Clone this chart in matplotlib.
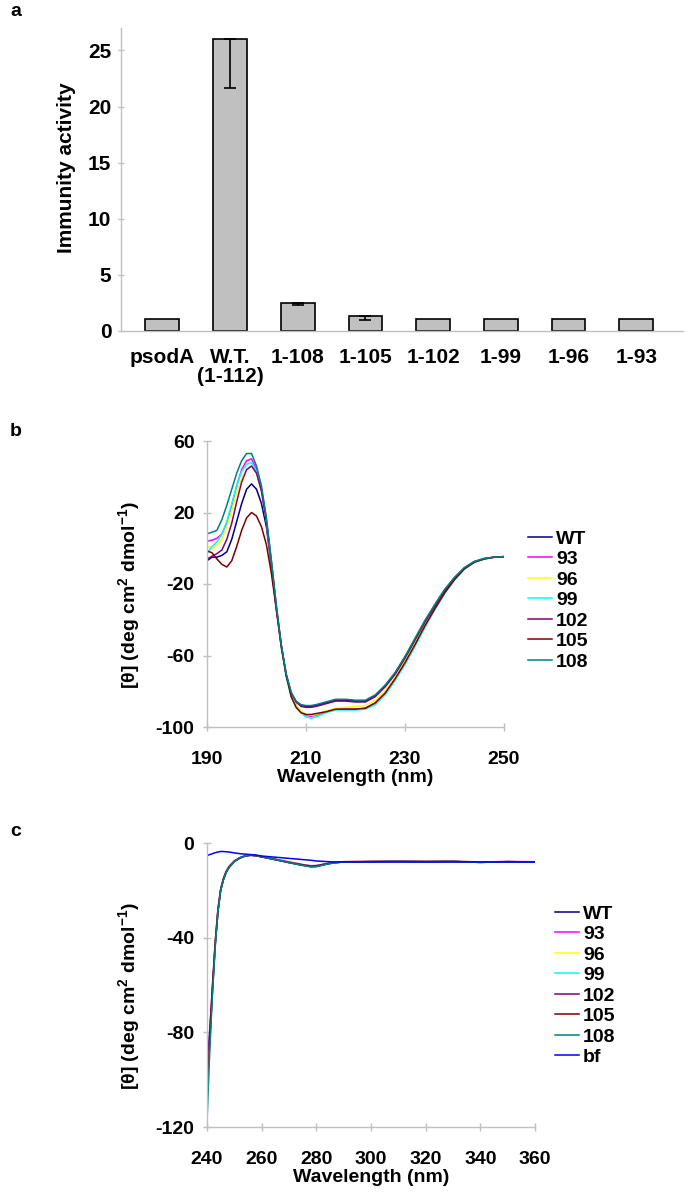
# -*- coding: utf-8 -*-
""" Immunity activity bars (a) and CD spectra (b, c) in one tall figure. """

import matplotlib
matplotlib.use('Agg')
import matplotlib.pyplot as plt
from matplotlib.font_manager import FontProperties

plt.rcParams['font.family'] = ['Liberation Sans', 'DejaVu Sans']
plt.rcParams['mathtext.fontset'] = 'custom'
plt.rcParams['mathtext.rm'] = 'Liberation Sans:bold'
plt.rcParams['mathtext.default'] = 'rm'
plt.rcParams['axes.unicode_minus'] = False

# ---------------- data ----------------
# panel a
constructs = ['psodA', 'W.T.\n(1-112)', '1-108', '1-105', '1-102', '1-99',
              '1-96', '1-93']
activity = [1.05, 26.0, 2.5, 1.3, 1.05, 1.05, 1.05, 1.05]
activity_err_low = [0, 4.35, 0.15, 0.3, 0, 0, 0, 0]

# panel b, far-UV CD (wavelength in nm)
wl_far = list(range(190, 213)) + list(range(214, 251, 2))
far_wt = [-7, -5, -5, -4, -2, 5, 15, 25, 33,
          36, 33, 25, 12, -10, -34, -55, -71, -81, -86, -88, -88.5, -88.5, -88,
          -86.5, -85, -85, -85.5, -85.5, -82.5, -77, -70, -61, -51, -41, -32,
          -23.5, -16.5, -11, -7.5, -5.8, -5, -4.7]
far_93 = [4, 4.5, 5.5, 8, 14, 24, 35, 44, 49,
          50, 44, 33, 16, -7, -32, -54, -71, -82, -88, -91.5, -93.5, -94, -93.5,
          -91.5, -90, -90, -90, -89.5, -86.5, -81, -73, -64, -54, -43.5, -34,
          -25, -17.5, -11.5, -7.8, -6, -5, -4.7]
far_96 = [1, 0, 1.5, 5, 12, 21, 31, 39, 44,
          46, 42, 32, 15, -8, -33, -55, -71, -82, -88, -91, -93, -93.5, -93,
          -91, -89.5, -89, -88.5, -88, -85, -79.5, -72, -63, -53, -42.5, -33,
          -24, -17, -11.3, -7.7, -5.9, -5, -4.7]
far_99 = [-3, 1, 3.5, 8, 15, 25, 35, 43, 47,
          48, 43, 33, 16, -7, -32, -55, -72, -83, -89, -92, -94.5, -95, -94.5,
          -92, -90.5, -90.5, -90.5, -90, -87.5, -82, -74, -65, -55, -44.5, -34.5,
          -25.5, -17.8, -11.7, -7.9, -6, -5, -4.7]
far_102 = [-6, -4.5, -3, -1, 5, 14, 26, 37, 44,
           46, 42, 32, 15, -8, -33, -55, -71, -81, -86, -88.5, -89, -89, -88.5,
           -87, -85.5, -85.5, -86, -86, -83, -77.5, -70.5, -61.5, -51.5, -41.5,
           -32.5, -24, -16.8, -11.2, -7.6, -5.8, -5, -4.7]
far_105 = [-1.5, -2.5, -6, -9, -10.5, -7, 1, 10, 17,
           20, 18, 12, 2, -14, -34, -54, -71, -83, -89, -92, -93, -93, -92.5,
           -91.5, -90, -90, -90, -89.5, -86.5, -81, -73, -64, -54, -43.5, -34,
           -25, -17.5, -11.5, -7.8, -6, -5, -4.7]
far_108 = [8, 9, 10, 16, 24, 33, 42, 49, 53,
           53, 46, 35, 17, -7, -32, -54, -70, -80.5, -85.5, -87.5, -88, -88, -87.5,
           -86, -84.5, -84.5, -85, -85, -82, -76.5, -69.5, -60.5, -50.5, -40.5,
           -31.5, -23, -16.3, -10.8, -7.4, -5.7, -5, -4.7]

# panel c, near-UV CD (wavelength in nm)
wl_near = [240, 241, 242, 243, 244, 245, 246, 247, 248, 250, 252, 254, 256,
           258, 260, 265, 270, 275, 278, 280, 283, 286, 290, 300, 310, 320,
           330, 340, 350, 360]
near_wt = [-100, -82, -62, -43, -29, -20, -15.5, -12.5, -10.5, -7.8, -6.4,
           -5.5, -5.2, -5.4, -5.8, -7, -8.2, -9.3, -9.8, -9.7, -9, -8.4, -8,
           -7.9, -7.8, -7.9, -7.8, -8.1, -7.9, -8]
near_93 = [-96, -80, -61, -42, -28, -19.5, -15, -12, -10, -7.6, -6.2, -5.4,
           -5.1, -5.3, -5.7, -6.8, -8, -9.1, -9.6, -9.5, -8.9, -8.3, -7.9, -7.8,
           -7.7, -7.8, -7.7, -8, -7.8, -7.9]
near_96 = [-99, -81, -61, -42, -28, -19.5, -15, -12, -10, -7.7, -6.3, -5.4,
           -5.1, -5.3, -5.8, -6.9, -8.1, -9.2, -9.7, -9.6, -8.9, -8.3, -7.9,
           -7.8, -7.8, -7.8, -7.7, -8, -7.9, -8]
near_99 = [-108, -85, -63, -43, -29, -20, -15.5, -12.3, -10.3, -7.8, -6.3,
           -5.4, -5, -5.3, -5.8, -7, -8.3, -9.4, -10, -9.9, -9.1, -8.4, -8, -7.9,
           -7.8, -7.9, -7.8, -8.2, -7.9, -8]
near_102 = [-94, -79, -60, -42, -28, -19.5, -15, -12, -10, -7.6, -6.2, -5.4,
            -5.1, -5.3, -5.8, -6.9, -8.1, -9.2, -9.7, -9.6, -8.9, -8.3, -7.9,
            -7.8, -7.8, -7.8, -7.8, -8, -7.9, -8]
near_105 = [-106, -84, -62, -43, -29, -20, -15.5, -12.4, -10.4, -7.8, -6.4,
            -5.5, -5.2, -5.4, -5.9, -7.1, -8.3, -9.4, -10, -9.9, -9.1, -8.4, -8,
            -7.9, -7.8, -7.9, -7.8, -8.2, -7.9, -8]
near_108 = [-118, -88, -64, -44, -29, -20, -15.5, -12.3, -10.3, -7.8, -6.3,
            -5.4, -5, -5.3, -5.8, -7, -8.3, -9.5, -10.1, -10, -9.2, -8.5, -8,
            -7.9, -7.8, -7.9, -7.8, -8.2, -7.9, -8]
near_bf = [-5.3, -4.9, -4.5, -4.1, -3.8, -3.6, -3.6, -3.7, -3.8, -4.2, -4.5,
           -4.7, -4.9, -5.1, -5.5, -6, -6.5, -7, -7.3, -7.6, -7.8, -8, -8, -8,
           -8, -8, -8, -8, -8, -8]

labels_far = ['WT', '93', '96', '99', '102', '105', '108']
series_far = [far_wt, far_93, far_96, far_99, far_102, far_105, far_108]
labels_near = ['WT', '93', '96', '99', '102', '105', '108', 'bf']
series_near = [near_wt, near_93, near_96, near_99, near_102, near_105,
               near_108, near_bf]
# classic excel line colours
line_colors = ['#000080', '#ff00ff', '#ffff00', '#00ffff', '#800080',
               '#800000', '#008080', '#0000ff']

# ---------------- layout helpers ----------------
W, H = 685, 1198
fig = plt.figure(figsize=(W / 100, H / 100), dpi=100)


def rect(left, top, right, bottom):
    """ pixel box -> figure fraction box """
    return [left / W, 1 - bottom / H, (right - left) / W, (bottom - top) / H]


spine_grey = '#c0c0c0'
narrow = FontProperties(family=['Liberation Sans Narrow', 'Liberation Sans'],
                        weight='bold', size=15)
bold14 = FontProperties(family='Liberation Sans', weight='bold', size=14)


def style_axes(ax):
    for side in ['top', 'right']:
        ax.spines[side].set_visible(False)
    for side in ['left', 'bottom']:
        ax.spines[side].set_color(spine_grey)
        ax.spines[side].set_linewidth(1.0)
    ax.tick_params(color=spine_grey, direction='inout', length=6, width=1.0)


# ---------------- panel a ----------------
ax_a = fig.add_axes(rect(121, 28, 683, 331))
xpos = list(range(len(constructs)))
ax_a.bar(xpos, activity, width=0.5, color='#c0c0c0', edgecolor='black',
         linewidth=1.2, zorder=2)
for i in xpos:
    if activity_err_low[i] > 0:
        ax_a.errorbar(xpos[i], activity[i], yerr=[[activity_err_low[i]], [0]],
                      fmt='none', ecolor='black', elinewidth=1.2, capsize=4,
                      capthick=1.2, zorder=3)
style_axes(ax_a)
ax_a.set_xlim(-0.61, 7.69)
ax_a.set_ylim(0, 27)
ax_a.set_yticks([0, 5, 10, 15, 20, 25])
ax_a.set_xticks(xpos)
ax_a.set_xticklabels(constructs, fontproperties=narrow, linespacing=1.0)
ax_a.tick_params(axis='x', length=0, pad=12)
ax_a.tick_params(axis='y', length=4, pad=5)
for t in ax_a.get_yticklabels():
    t.set_fontproperties(narrow)
ax_a.set_ylabel('Immunity activity', fontproperties=narrow)
ax_a.yaxis.set_label_coords(-0.08, 0.54)

# ---------------- panel b ----------------
ax_b = fig.add_axes(rect(207, 441, 504, 727))
for lab, ys, col in zip(labels_far, series_far, line_colors):
    ax_b.plot(wl_far, ys, color=col, lw=1.1, label=lab)
style_axes(ax_b)
ax_b.set_xlim(190, 250)
ax_b.set_ylim(-100, 60)
ax_b.set_xticks([190, 210, 230, 250])
ax_b.set_yticks([-100, -60, -20, 20, 60])
ax_b.tick_params(axis='x', pad=14)
ax_b.tick_params(axis='y', pad=6)
for t in ax_b.get_xticklabels() + ax_b.get_yticklabels():
    t.set_fontproperties(bold14)
ax_b.set_xlabel('Wavelength (nm)', fontproperties=bold14, labelpad=1)
ax_b.set_ylabel('[θ] (deg cm$^{2}$ dmol$^{-1}$)', fontproperties=bold14)
ax_b.yaxis.set_label_coords(-0.219, 0.46)
ax_b.legend(loc='upper left', bbox_to_anchor=(528 / W, 1 - 530 / H),
            bbox_transform=fig.transFigure, frameon=False, prop=bold14,
            handlelength=1.25, handletextpad=0.2, labelspacing=0.15,
            borderpad=0, borderaxespad=0)

# ---------------- panel c ----------------
ax_c = fig.add_axes(rect(207, 843, 535, 1127))
for lab, ys, col in zip(labels_near, series_near, line_colors):
    ax_c.plot(wl_near, ys, color=col, lw=1.1, label=lab)
style_axes(ax_c)
ax_c.set_xlim(240, 360)
ax_c.set_ylim(-120, 0)
ax_c.set_xticks(list(range(240, 361, 20)))
ax_c.set_yticks([-120, -80, -40, 0])
ax_c.tick_params(axis='x', pad=14)
ax_c.tick_params(axis='y', pad=6)
for t in ax_c.get_xticklabels() + ax_c.get_yticklabels():
    t.set_fontproperties(bold14)
ax_c.set_xlabel('Wavelength (nm)', fontproperties=bold14, labelpad=1)
ax_c.set_ylabel('[θ] (deg cm$^{2}$ dmol$^{-1}$)', fontproperties=bold14)
ax_c.yaxis.set_label_coords(-0.198, 0.46)
ax_c.legend(loc='upper left', bbox_to_anchor=(555 / W, 1 - 905 / H),
            bbox_transform=fig.transFigure, frameon=False, prop=bold14,
            handlelength=1.25, handletextpad=0.2, labelspacing=0.15,
            borderpad=0, borderaxespad=0)

# panel letters
for letter, ypix in zip(['a', 'b', 'c'], [12, 432, 832]):
    fig.text(10 / W, 1 - ypix / H, letter, fontproperties=bold14,
             ha='left', va='center')

plt.savefig('out.png', dpi=100)
